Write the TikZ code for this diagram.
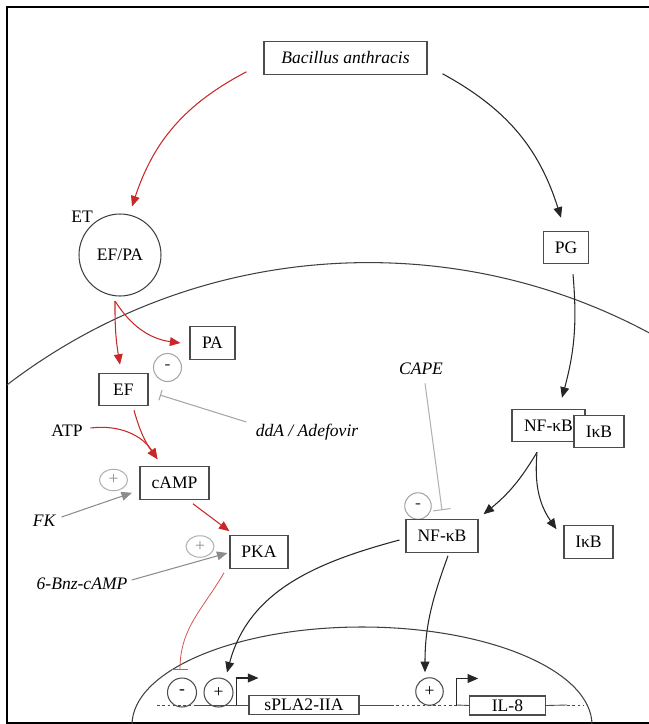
\documentclass[tikz,border=0pt]{standalone}
\usepackage{fontspec}
\setmainfont{Liberation Serif}
\usetikzlibrary{arrows.meta,shapes.geometric}
\definecolor{etred}{RGB}{200,40,40}

\begin{document}
\begin{tikzpicture}[x=0.02cm, y=0.02cm, line width=0.6pt, >={Triangle[length=6pt,width=5pt]}]
	\tikzstyle{bx}=[rectangle, draw=black!70, fill=white, minimum height=0.65cm, inner sep=0pt]
	\tikzstyle{sg}=[ellipse, draw=black!30, text=black!45, inner sep=0pt, minimum width=0.56cm, minimum height=0.43cm]
	\tikzstyle{sm}=[circle, draw=black!35, text=black!80, inner sep=0pt, minimum size=0.56cm]
	\tikzstyle{sk}=[circle, draw=black!70, inner sep=0pt, minimum size=0.58cm]
	\tikzstyle{ra}=[->, draw=etred]
	\tikzstyle{ka}=[->, draw=black!85]
	\tikzstyle{ga}=[->, draw=black!45]
	\tikzstyle{dna}=[draw=black!70, line width=0.5pt]
	\tikzstyle{dots}=[dna, dash pattern=on 1.5pt off 1.5pt]

	\useasboundingbox (0,0) rectangle (649,-724);
	\draw[line width=1.1pt] (649,-7) -- (7,-7) -- (7,-723) -- (649,-723);

	% cell and nucleus
	\begin{scope}
		\clip (7,-7) rectangle (649,-723);
		\draw[black!75] (368.4,-857.6) circle (595);
		\draw[black!75] (362,-725) ellipse (230 and 98);
	\end{scope}

	\node[bx, minimum width=3.26cm, font=\itshape] (ba) at (345.5,-58) {Bacillus anthracis};
	\node[circle, draw=black!75, minimum size=1.64cm, inner sep=0pt] (etc) at (120,-255) {EF/PA};
	\node (et) at (82,-217) {ET};
	\node[bx, minimum width=0.9cm] (pg) at (566,-247.5) {PG};
	\node[bx, minimum width=0.9cm] (pa) at (212.5,-343) {PA};
	\node[bx, minimum width=0.98cm] (ef) at (123.5,-389.5) {EF};
	\node[bx, minimum width=1.38cm] (camp) at (174.5,-483) {cAMP};
	\node[bx, minimum width=1.16cm] (pka) at (259,-552) {PKA};
	\node (atp) at (67,-431) {ATP};
	\node[font=\itshape] (fk) at (44,-521) {FK};
	\node[font=\itshape] (bnz) at (82,-584) {6-Bnz-cAMP};
	\node[font=\itshape] (dda) at (307,-432) {ddA / Adefovir};
	\node[font=\itshape] (cape) at (421,-369) {CAPE};
	\node[sm] (mpa) at (167.5,-367.5) {-};
	\node[sg] (pcamp) at (113.5,-480) {+};
	\node[sg] (ppka) at (200,-546.5) {+};
	\node[sm, minimum size=0.53cm] (mnf) at (418,-506) {-};
	\node[bx, minimum width=1.46cm] (nfc) at (548.5,-425.5) {NF-κB};
	\node[bx, minimum width=1.0cm] (ikc) at (599,-431.5) {IκB};
	\node[bx, minimum width=1.44cm] (nfk) at (442,-536) {NF-κB};
	\node[bx, minimum width=0.98cm] (ikb) at (588.5,-542) {IκB};

	% nucleus
	\node[sk] (mn) at (182,-692.5) {-};
	\node[sk] (pn1) at (218.5,-692.5) {+};
	\node[sk, minimum size=0.55cm] (pn2) at (429.5,-691.5) {+};
	\node[bx, minimum width=2.2cm, minimum height=0.38cm] (spla) at (304,-705) {sPLA2-IIA};
	\node[bx, minimum width=1.51cm, minimum height=0.38cm] (il) at (507.5,-705.5) {IL-8};
	\draw[dots] (157,-705) -- (197,-705);
	\draw[dna] (197,-705) -- (spla.west);
	\draw[dna] (spla.east) -- (391,-705);
	\draw[dots] (391,-705) -- (457,-705);
	\draw[dna] (457,-705) -- (il.west);
	\draw[dna] (il.east) -- (567,-705);
	\draw[dots] (567,-705) -- (584,-705);
	\draw[ka] ([xshift=-0.24cm]spla.west) |- ++(22,27);
	\draw[ka] ([xshift=-0.26cm]il.west) |- ++(22,27);

	% toxin side
	\draw[ra] ([shift={(-17,3)}]ba.south west) to[bend right=22] ([shift={(12,7)}]etc.north);
	\coordinate (split) at (115,-301);
	\draw[ra] (split) to[bend right=5] ([shift={(-3.5,8)}]ef.north);
	\draw[ra] (split) to[bend right=25] ([shift={(-9,0)}]pa.west);
	\coordinate (campin) at ([shift={(18,7)}]camp.north west);
	\draw[ra] ([shift={(10.5,-4)}]ef.south) to[bend right=10] (campin);
	\draw[ra] ([shift={(1.5,3)}]atp.east) to[bend left=32] (campin);
	\draw[ra] ([shift={(18.5,-4)}]camp.south) -- ([shift={(0,4)}]pka.north west);
	\draw[ga] ([shift={(0,4)}]fk.east) -- ([shift={(-7.5,7)}]camp.south west);
	\draw[ga] ([shift={(-2,4)}]bnz.east) -- ([shift={(-2,-1)}]pka.west);
	\draw[draw=black!35, -{Bar[width=6pt]}] ([shift={(-3,10)}]dda.west) -- ([shift={(-7.5,-13)}]mpa.south);
	\draw[draw=etred!80, line width=0.45pt, -{Bar[width=9pt]}] ([shift={(-35,-4)}]pka.south) to[out=240,in=90] ([shift={(-2,8)}]mn.north);

	% PG side
	\draw[ka] ([shift={(15,1)}]ba.south east) to[bend left=22] ([shift={(-5,13)}]pg.north);
	\draw[ka] ([shift={(7,-10)}]pg.south) to[bend left=10] ([shift={(13.5,11)}]nfc.north);
	\coordinate (cpx) at ([shift={(-11.5,-10)}]nfc.south);
	\draw[ka] (cpx) to[bend left=10] ([shift={(5,5)}]nfk.north east);
	\draw[ka] (cpx) to[out=-95,in=125] ([shift={(-7,-4)}]ikb.north west);
	\draw[draw=black!30, -{Bar[width=10pt]}] ([shift={(4,-2)}]cape.south) -- ([shift={(0,9)}]nfk.north);
	\draw[ka] ([shift={(-6,-4)}]nfk.west) to[out=195,in=75] ([shift={(8.5,5)}]pn1.north);
	\draw[ka] ([shift={(6,-3)}]nfk.south) to[out=250,in=90] ([shift={(-4.5,5)}]pn2.north);
\end{tikzpicture}
\end{document}
